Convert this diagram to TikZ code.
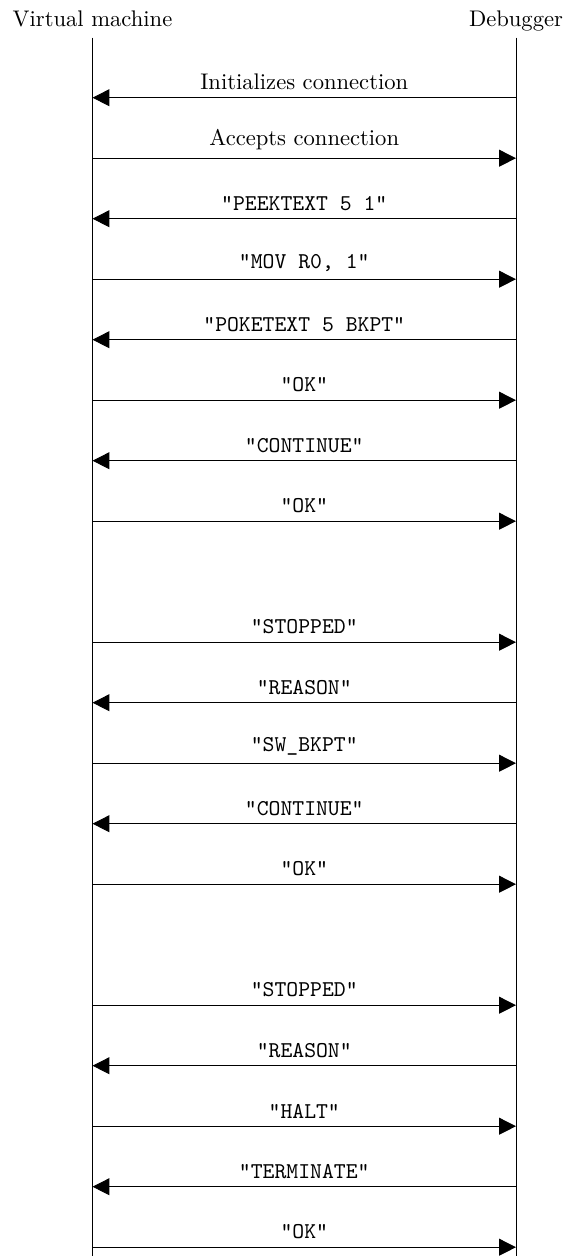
\documentclass[tikz,border=0pt]{standalone}
\usetikzlibrary{arrows.meta}
\begin{document}
\begin{tikzpicture}[x=0.4425pt,y=-0.4425pt,
  lifeline/.style={line width=0.4pt},
  msg/.style={line width=0.4pt,-{Triangle[length=7.5pt,width=7.5pt]}},
  txt/.style={above,inner sep=3.33pt},
  cmd/.style={above,inner sep=3.33pt,font=\ttfamily}]
\useasboundingbox (0,0) rectangle (567,1256);

% participants
\node[anchor=base] (vmname) at (92.5,26.7) {Virtual machine};
\node[anchor=base] (dbgname) at (516,26.7) {Debugger};

% lifelines
\coordinate (vmtop) at (92.5,37.5);
\coordinate (vmbot) at (92.5,1256);
\coordinate (dbtop) at (516,37.5);
\coordinate (dbbot) at (516,1256);
\draw[lifeline] (vmtop) -- (vmbot);
\draw[lifeline] (dbtop) -- (dbbot);

% message slots on both lifelines
\foreach \i in {0,...,19} {
  \coordinate (vm\i) at (92.5,97.7+60.5*\i);
  \coordinate (db\i) at (516,97.7+60.5*\i);
}

% handshake and breakpoint setup
\draw[msg] (db0) -- node[txt] {Initializes connection} (vm0);
\draw[msg] (vm1) -- node[txt] {Accepts connection} (db1);
\draw[msg] (db2) -- node[cmd] {"PEEKTEXT 5 1"} (vm2);
\draw[msg] (vm3) -- node[cmd] {"MOV R0, 1"} (db3);
\draw[msg] (db4) -- node[cmd] {"POKETEXT 5 BKPT"} (vm4);
\draw[msg] (vm5) -- node[cmd] {"OK"} (db5);
\draw[msg] (db6) -- node[cmd] {"CONTINUE"} (vm6);
\draw[msg] (vm7) -- node[cmd] {"OK"} (db7);

% first stop: breakpoint hit
\draw[msg] (vm9) -- node[cmd] {"STOPPED"} (db9);
\draw[msg] (db10) -- node[cmd] {"REASON"} (vm10);
\draw[msg] (vm11) -- node[cmd] {"SW\_BKPT"} (db11);
\draw[msg] (db12) -- node[cmd] {"CONTINUE"} (vm12);
\draw[msg] (vm13) -- node[cmd] {"OK"} (db13);

% second stop: program halted
\draw[msg] (vm15) -- node[cmd] {"STOPPED"} (db15);
\draw[msg] (db16) -- node[cmd] {"REASON"} (vm16);
\draw[msg] (vm17) -- node[cmd] {"HALT"} (db17);
\draw[msg] (db18) -- node[cmd] {"TERMINATE"} (vm18);
\draw[msg] (vm19) -- node[cmd] {"OK"} (db19);
\end{tikzpicture}
\end{document}
